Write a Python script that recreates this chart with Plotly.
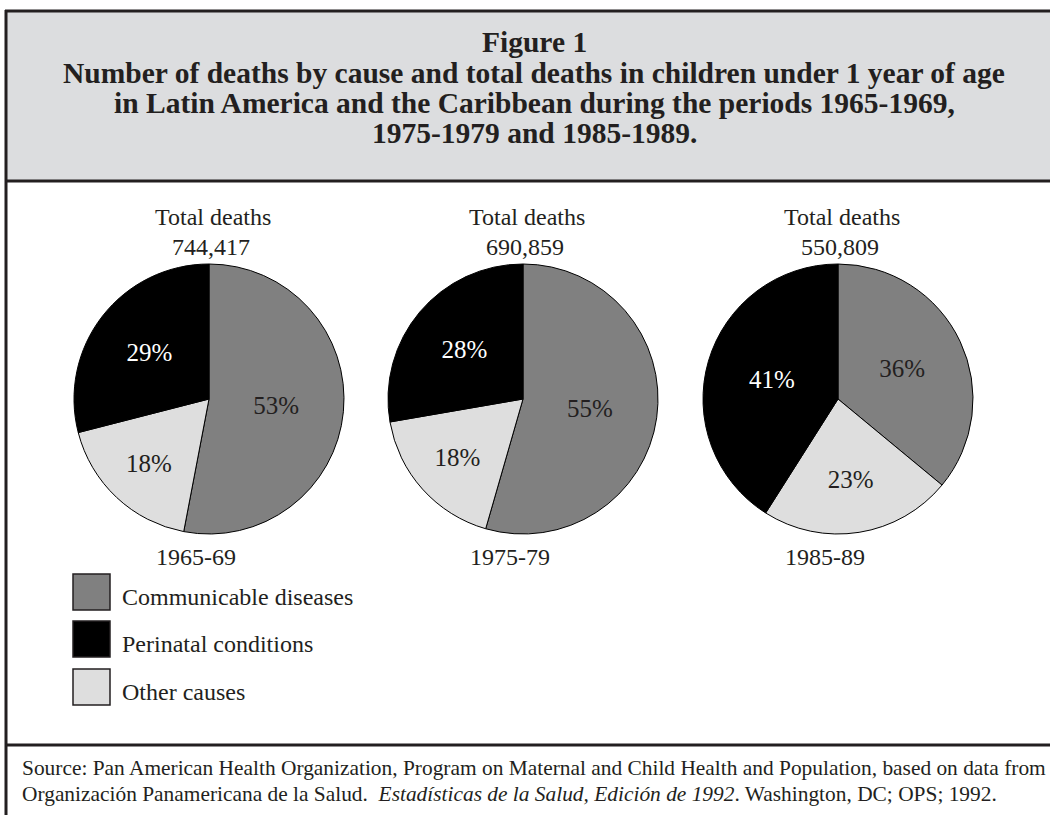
import plotly.graph_objects as go

W, H = 1050, 815

# ---- data ----
periods = ["1965-69", "1975-79", "1985-89"]
total_deaths = ["744,417", "690,859", "550,809"]
causes = ["Communicable diseases", "Other causes", "Perinatal conditions"]  # clockwise from 12 o'clock
pct_1965 = [53, 18, 29]
pct_1975 = [55, 18, 28]
pct_1985 = [36, 23, 41]
legend_order = ["Communicable diseases", "Perinatal conditions", "Other causes"]

title_lines = [
    "Figure 1",
    "Number of deaths by cause and total deaths in children under 1 year of age",
    "in Latin America and the Caribbean during the periods 1965-1969,",
    "1975-1979 and 1985-1989.",
]
source_line1 = ("Source: Pan American Health Organization, Program on Maternal and Child Health "
                "and Population, based on data from")
source_line2 = ("Organización Panamericana de la Salud.  <i>Estadísticas de la Salud, Edición de 1992</i>. "
                "Washington, DC; OPS; 1992.")

# ---- styles ----
colors = {"Communicable diseases": "#808080", "Other causes": "#dedede", "Perinatal conditions": "#000000"}
txtcol = {"Communicable diseases": "#231f20", "Other causes": "#231f20", "Perinatal conditions": "#ffffff"}
INK = "#231f20"
SERIF = "Liberation Serif"
centers = [(209, 399), (523, 399), (838, 399)]
R = 135

fig = go.Figure()

all_pcts = [pct_1965, pct_1975, pct_1985]
for (cx, cy), vals in zip(centers, all_pcts):
    tf = dict(family=SERIF, size=25, color=[txtcol[c] for c in causes])
    fig.add_trace(go.Pie(
        labels=causes, values=vals, sort=False, direction="clockwise", rotation=0,
        marker=dict(colors=[colors[c] for c in causes], line=dict(color="#000000", width=1)),
        texttemplate="%{value}%", textposition="inside", insidetextorientation="horizontal",
        textfont=tf, insidetextfont=tf,
        domain=dict(x=[(cx - R) / W, (cx + R) / W], y=[1 - (cy + R) / H, 1 - (cy - R) / H]),
        showlegend=False, hoverinfo="label+percent",
    ))

shapes = []
# header band
shapes.append(dict(type="rect", xref="x", yref="y", x0=6, x1=1060, y0=11, y1=181,
                   fillcolor="#dcdddf", line=dict(width=0), layer="below"))
line = dict(color=INK, width=3)
shapes.append(dict(type="line", xref="x", yref="y", x0=5, x1=1060, y0=11, y1=11, line=line))
shapes.append(dict(type="line", xref="x", yref="y", x0=6, x1=6, y0=10, y1=830, line=line))
shapes.append(dict(type="line", xref="x", yref="y", x0=5, x1=1060, y0=181, y1=181, line=line))
shapes.append(dict(type="line", xref="x", yref="y", x0=5, x1=1060, y0=745, y1=745, line=line))

annotations = []
def ann(x, y, text, size, xanchor="center", bold=False, color=INK):
    if bold:
        text = "<b>" + text + "</b>"
    annotations.append(dict(x=x, y=y, xref="x", yref="y", text=text, showarrow=False,
                            xanchor=xanchor, yanchor="middle",
                            font=dict(family=SERIF, size=size, color=color)))

title_y = [42, 73, 103, 133]
for t, y in zip(title_lines, title_y):
    ann(534, y, t, 29.5, bold=True)

for (cx, cy), tot, per in zip(centers, total_deaths, periods):
    ann(cx + 4, 217, "Total deaths", 24)
    ann(cx + 2, 247, tot, 24)
    ann(cx - 13, 557, per, 24)

# legend
leg_y = [592, 639, 687]
for name, y in zip(legend_order, leg_y):
    shapes.append(dict(type="rect", xref="x", yref="y", x0=73, x1=110, y0=y - 18, y1=y + 18,
                       fillcolor=colors[name], line=dict(color=INK, width=1.5)))
    ann(120, y + 5, name, 24, xanchor="left")

ann(20, 768, source_line1, 21.4, xanchor="left")
ann(20, 794, source_line2, 21.4, xanchor="left")

fig.update_layout(
    width=W, height=H, margin=dict(l=0, r=0, t=0, b=0),
    paper_bgcolor="white", plot_bgcolor="white",
    font=dict(family=SERIF, color=INK),
    xaxis=dict(range=[0, W], visible=False, domain=[0, 1], fixedrange=True),
    yaxis=dict(range=[H, 0], visible=False, domain=[0, 1], fixedrange=True),
    shapes=shapes, annotations=annotations, showlegend=False,
)

fig.write_html("out.html")
